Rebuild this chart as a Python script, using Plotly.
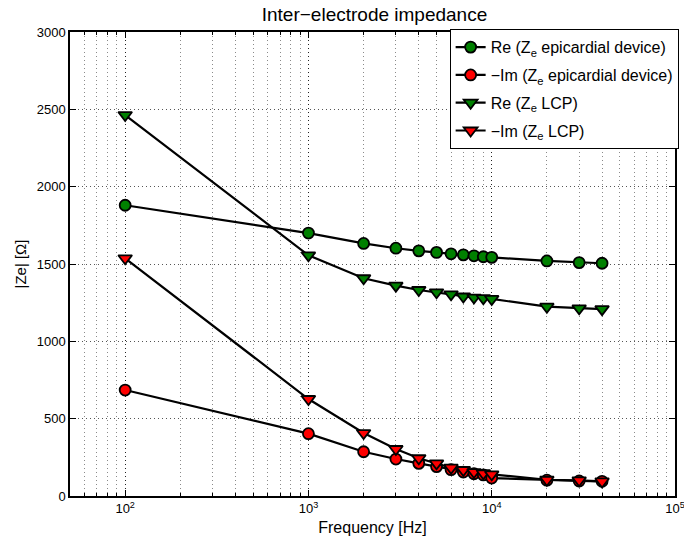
import plotly.graph_objects as go

# Measurement frequencies [Hz]
freq = [100, 1000, 2000, 3000, 4000, 5000, 6000, 7000, 8000, 9000, 10000, 20000, 30000, 40000]

# Real part and negated imaginary part of the inter-electrode impedance [Ohm]
re_epicardial = [1880, 1700, 1633, 1602, 1585, 1575, 1566, 1559, 1553, 1547, 1543, 1520, 1509, 1505]
im_epicardial = [685, 403, 286, 239, 211, 190, 170, 155, 144, 136, 116, 102, 97, 95]
re_lcp = [2463, 1556, 1408, 1360, 1332, 1317, 1304, 1290, 1283, 1279, 1274, 1224, 1213, 1208]
im_lcp = [1537, 627, 407, 304, 244, 211, 183, 168, 155, 147, 140, 105, 101, 94]

series_names = [
    "Re (Z<sub>e</sub> epicardial device)",
    "\u2212Im (Z<sub>e</sub> epicardial device)",
    "Re (Z<sub>e</sub> LCP)",
    "\u2212Im (Z<sub>e</sub> LCP)",
]
series_values = [re_epicardial, im_epicardial, re_lcp, im_lcp]
series_symbols = ["circle", "circle", "triangle-down", "triangle-down"]
series_colors = ["#008000", "#ff0000", "#008000", "#ff0000"]
series_sizes = [11, 11, 12, 12]

x_major = [100, 1000, 10000, 100000]
x_major_text = ["10<sup>2</sup>", "10<sup>3</sup>", "10<sup>4</sup>", "10<sup>5</sup>"]
x_minor = [m * 10 ** e for e in range(1, 5) for m in range(2, 10) if 50 <= m * 10 ** e <= 100000]
y_ticks = [0, 500, 1000, 1500, 2000, 2500, 3000]

FONT = "Liberation Sans, Arial, Helvetica, sans-serif"
DOTS = "1px,3px"

fig = go.Figure()
for i, (name, vals, sym, col, sz) in enumerate(
    zip(series_names, series_values, series_symbols, series_colors, series_sizes)
):
    fig.add_trace(
        go.Scatter(
            x=freq,
            y=vals,
            name=name,
            mode="lines+markers",
            line=dict(color="black", width=2.2),
            marker=dict(symbol=sym, size=sz, color=col, line=dict(color="black", width=1.8)),
            legendgroup=f"g{i}",
        )
    )

fig.update_layout(
    width=684,
    height=540,
    margin=dict(l=70, r=5, t=32, b=44),
    paper_bgcolor="white",
    plot_bgcolor="white",
    font=dict(family=FONT, color="black", size=13),
    title=dict(
        text="Inter\u2212electrode impedance",
        x=(70 + 679) / 2 / 684,
        xanchor="center",
        y=1 - 14 / 540,
        yanchor="middle",
        yref="container",
        font=dict(size=19, family=FONT, color="black"),
    ),
    showlegend=True,
    legend=dict(
        x=1.006,
        y=1.006,
        xanchor="right",
        yanchor="top",
        bgcolor="white",
        bordercolor="black",
        borderwidth=1,
        font=dict(size=16, family=FONT, color="black"),
        traceorder="grouped",
        tracegroupgap=4,
        itemwidth=30,
    ),
)

fig.update_xaxes(
    type="log",
    range=[1.69897, 5],
    tickmode="array",
    tickvals=x_major,
    ticktext=x_major_text,
    tickfont=dict(size=13),
    ticklabeloverflow="allow",
    ticks="inside",
    ticklen=6,
    tickcolor="black",
    showline=True,
    linecolor="black",
    linewidth=1.5,
    mirror="allticks",
    showgrid=True,
    gridcolor="#222222",
    griddash=DOTS,
    gridwidth=1,
    zeroline=False,
    automargin=False,
    minor=dict(
        tickmode="array",
        tickvals=x_minor,
        ticks="inside",
        ticklen=3,
        tickcolor="black",
        showgrid=True,
        gridcolor="#8a8a8a",
        griddash=DOTS,
        gridwidth=1,
    ),
    title=dict(text="Frequency [Hz]", font=dict(size=16, family=FONT), standoff=6),
)

fig.update_yaxes(
    range=[0, 3000],
    tickmode="array",
    tickvals=y_ticks,
    ticks="inside",
    ticklen=6,
    tickcolor="black",
    tickfont=dict(size=13),
    showline=True,
    linecolor="black",
    linewidth=1.5,
    mirror="allticks",
    showgrid=True,
    gridcolor="#555555",
    griddash=DOTS,
    gridwidth=1,
    zeroline=False,
    automargin=False,
    title=dict(text="|Ze| [\u03a9]", font=dict(size=15, family=FONT), standoff=6),
)

fig.write_html("out.html")
